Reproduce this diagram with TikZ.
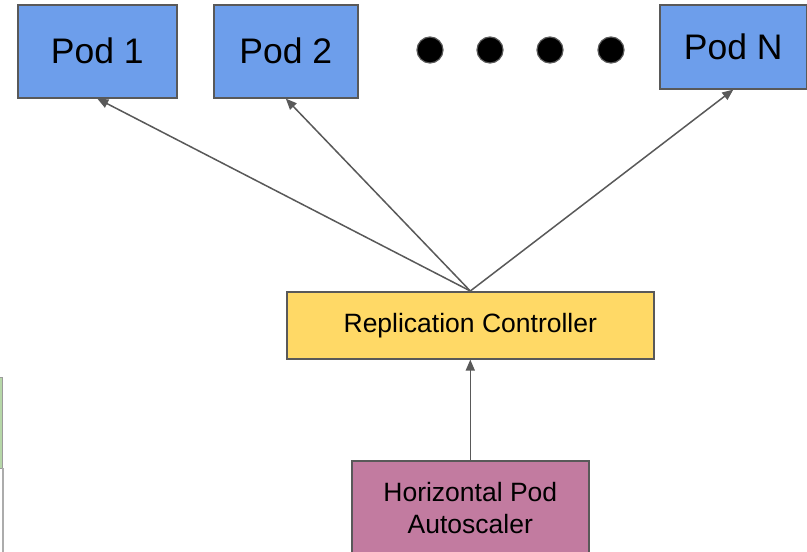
\documentclass[tikz,border=0pt]{standalone}
\usepackage{fontspec}
\setmainfont{Liberation Sans}
\usetikzlibrary{arrows.meta}
\definecolor{podblue}{HTML}{6D9EEB}
\definecolor{rcyellow}{HTML}{FFD966}
\definecolor{hpapink}{HTML}{C27BA0}
\definecolor{edgegray}{HTML}{595959}
\definecolor{leafgreen}{HTML}{B6D7A8}
\tikzset{
  box/.style={draw=edgegray, line width=1.6pt, rectangle, inner sep=0pt, anchor=north west, align=center},
  pod/.style={box, fill=podblue, font=\fontsize{35.5}{40}\selectfont},
  ctrl/.style={box, fill=rcyellow, font=\fontsize{26.5}{30}\selectfont},
  hpa/.style={box, fill=hpapink, font=\fontsize{26.5}{32}\selectfont},
  link/.style={draw=edgegray, line width=1.5pt, -{Triangle[length=11pt,width=9pt]}},
  dot/.style={circle, fill=black, draw=edgegray, line width=1.2pt, minimum size=26pt, inner sep=0pt}
}
\begin{document}
\begin{tikzpicture}[x=1pt,y=-1pt]
\useasboundingbox (0,0) rectangle (807,552);
\fill[white] (0,0) rectangle (807,552);

% pods
\node[pod, minimum width=159pt, minimum height=93pt] (pod1) at (17,4) {Pod 1};
\node[pod, minimum width=144pt, minimum height=93pt] (pod2) at (213,4) {Pod 2};
\node[pod, minimum width=147pt, minimum height=84pt] (podn) at (659,4) {Pod N};

% ellipsis dots
\node[dot] (d1) at (430,50) {};
\node[dot] (d2) at (490,50) {};
\node[dot] (d3) at (550,50) {};
\node[dot] (d4) at (611,50) {};

% controller and autoscaler
\node[ctrl, minimum width=367pt, minimum height=67pt] (rc) at (286,291) {Replication Controller};
\node[hpa, minimum width=237pt, minimum height=95pt] (hpa) at (351,460) {Horizontal Pod\\Autoscaler};

% connectors
\draw[link] (rc.north) -- (pod1.south);
\draw[link] (rc.north) -- (pod2.south);
\draw[link] (rc.north) -- (podn.south);
\draw[link] (hpa.north) -- (rc.south);

% fragment of a neighbouring box at the left edge
\draw[draw=edgegray!60, fill=leafgreen, line width=1pt] (-6,377) rectangle (2.5,468);
\draw[draw=edgegray!50, line width=2pt] (2.5,468) -- (2.5,560);
\end{tikzpicture}
\end{document}
